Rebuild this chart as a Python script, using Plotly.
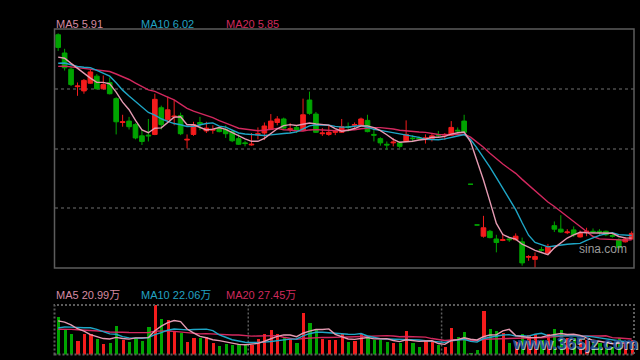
import pandas as pd
import plotly.graph_objects as go

# ---------------- data ----------------
opens = [8.79, 8.53, 8.30, 8.05, 7.99, 8.10, 8.20, 8.02, 8.11, 7.88,
         7.54, 7.56, 7.51, 7.35, 7.36, 7.37, 7.75, 7.58, 7.62, 7.64,
         7.29, 7.37, 7.54, 7.42, 7.43, 7.46, 7.44, 7.41, 7.31, 7.25,
         7.22, 7.37, 7.39, 7.44, 7.54, 7.59, 7.44, 7.47, 7.43, 7.86,
         7.66, 7.38, 7.37, 7.40, 7.40, 7.48, 7.50, 7.49, 7.57, 7.37,
         7.31, 7.23, 7.25, 7.25, 7.27, 7.32, 7.32, 7.31, 7.31, 7.37,
         7.36, 7.36, 7.43, 7.56, 6.66, 6.08, 5.92, 5.99, 5.88, 5.86,
         5.88, 5.87, 5.84, 5.62, 5.59, 5.73, 5.68, 6.07, 6.02, 5.97,
         6.01, 5.91, 5.98, 5.99, 5.99, 5.99, 5.93, 5.87, 5.84, 5.88]
highs = [8.81, 8.59, 8.33, 8.11, 8.16, 8.29, 8.23, 8.21, 8.18, 7.90,
         7.65, 7.62, 7.53, 7.44, 7.59, 7.95, 7.78, 7.91, 7.86, 7.68,
         7.37, 7.55, 7.62, 7.55, 7.50, 7.48, 7.50, 7.43, 7.37, 7.28,
         7.39, 7.47, 7.54, 7.66, 7.63, 7.61, 7.53, 7.49, 7.88, 7.98,
         7.69, 7.46, 7.49, 7.44, 7.59, 7.54, 7.54, 7.61, 7.65, 7.46,
         7.33, 7.27, 7.32, 7.27, 7.57, 7.36, 7.34, 7.37, 7.39, 7.42,
         7.39, 7.56, 7.47, 7.65, 6.66, 6.08, 6.21, 6.01, 5.94, 5.96,
         5.91, 5.96, 5.90, 5.65, 5.69, 5.77, 5.81, 6.13, 6.22, 6.02,
         6.06, 6.00, 6.04, 6.03, 6.02, 6.00, 5.96, 5.89, 5.91, 5.99]
lows = [8.56, 8.28, 8.06, 7.92, 7.95, 8.09, 8.01, 8.01, 7.94, 7.37,
        7.48, 7.44, 7.30, 7.22, 7.27, 7.36, 7.44, 7.56, 7.50, 7.36,
        7.17, 7.35, 7.43, 7.39, 7.38, 7.40, 7.32, 7.26, 7.22, 7.20,
        7.21, 7.30, 7.29, 7.43, 7.50, 7.44, 7.39, 7.39, 7.42, 7.65,
        7.39, 7.35, 7.35, 7.36, 7.39, 7.41, 7.46, 7.48, 7.40, 7.27,
        7.21, 7.15, 7.20, 7.17, 7.26, 7.26, 7.29, 7.24, 7.27, 7.33,
        7.29, 7.35, 7.38, 7.39, 6.66, 6.08, 5.90, 5.89, 5.69, 5.85,
        5.84, 5.86, 5.50, 5.57, 5.47, 5.70, 5.67, 5.98, 5.97, 5.95,
        5.91, 5.90, 5.92, 5.96, 5.94, 5.92, 5.90, 5.73, 5.83, 5.87]
closes = [8.61, 8.32, 8.08, 8.06, 8.14, 8.26, 8.02, 8.08, 7.95, 7.55,
          7.55, 7.48, 7.32, 7.27, 7.35, 7.87, 7.51, 7.72, 7.63, 7.38,
          7.30, 7.51, 7.52, 7.46, 7.44, 7.41, 7.38, 7.28, 7.23, 7.24,
          7.23, 7.38, 7.49, 7.56, 7.59, 7.46, 7.45, 7.43, 7.65, 7.67,
          7.40, 7.39, 7.40, 7.41, 7.48, 7.47, 7.51, 7.59, 7.41, 7.36,
          7.25, 7.22, 7.26, 7.20, 7.37, 7.31, 7.31, 7.32, 7.35, 7.36,
          7.37, 7.47, 7.42, 7.40, 6.66, 6.08, 6.04, 5.90, 5.83, 5.87,
          5.87, 5.92, 5.54, 5.63, 5.63, 5.72, 5.77, 6.02, 5.98, 5.98,
          5.94, 5.96, 5.99, 5.98, 5.98, 5.94, 5.92, 5.76, 5.88, 5.96]
# volume in 万
volumes = [66.3, 44.1, 35.8, 23.5, 35.8, 35.8, 27.0, 18.2, 19.9, 49.9,
           25.8, 21.7, 29.3, 23.5, 48.2, 87.0, 62.3, 60.5, 41.6, 38.1,
           22.2, 28.8, 28.8, 30.0, 20.5, 14.6, 18.7, 16.9, 18.7, 17.6,
           17.6, 27.0, 35.8, 42.9, 37.0, 30.0, 26.5, 20.5, 73.4, 55.7,
           44.1, 27.0, 25.2, 25.2, 37.0, 22.2, 23.5, 36.2, 30.5, 25.2,
           25.2, 22.2, 20.5, 20.5, 41.1, 20.5, 13.4, 23.5, 22.9, 16.4,
           13.4, 46.9, 31.0, 39.9, 2.8, 7.6, 76.9, 44.6, 41.1, 38.1,
           20.5, 22.2, 35.8, 33.5, 37.0, 24.7, 35.3, 44.6, 42.9, 28.2,
           28.2, 24.7, 24.7, 19.4, 19.4, 18.2, 12.9, 28.8, 19.9, 25.2]
# sessions before the visible window, estimated from where the MA lines start
closes_before = [8.25, 8.31, 8.28, 8.35, 8.30, 8.27, 8.33, 8.29, 8.26, 8.32,
                 8.28, 8.33, 8.30, 8.26, 8.31, 8.40, 8.45, 8.42, 8.48]
volumes_before = [40, 45, 38, 48, 42, 36, 44, 47, 40, 42,
                  30, 38, 33, 36, 36.5, 55, 60, 58, 57.2]

price_labels = ["MA5 5.91", "MA10 6.02", "MA20 5.85"]
volume_labels = ["MA5 20.99万", "MA10 22.06万", "MA20 27.45万"]
month_breaks = [29.5, 59.5]

# ---------------- styling ----------------
RED = "#f41c1c"
GREEN = "#00a400"
C_MA5 = "#e59ab2"
C_MA10 = "#1ea6c6"
C_MA20 = "#d2285e"
LBL_COLORS = ["#d58aa2", "#22a2c2", "#cf2a5c"]
FONT = "Liberation Sans, Arial, Noto Sans CJK SC, sans-serif"

W, H = 640, 360
def px_x(p): return p / W
def px_y(p): return 1 - p / H

n = len(closes)
x = list(range(n))
nb = len(closes_before)

def ma(series_before, series, w):
    s = pd.Series(list(series_before) + list(series), dtype=float)
    return s.rolling(w, min_periods=1).mean().iloc[nb:].tolist()

ma5, ma10, ma20 = (ma(closes_before, closes, w) for w in (5, 10, 20))
vma5, vma10, vma20 = (ma(volumes_before, volumes, w) for w in (5, 10, 20))

vol_colors = []
for i in range(n):
    if closes[i] > opens[i]:
        vol_colors.append(RED)
    elif closes[i] < opens[i]:
        vol_colors.append(GREEN)
    else:
        prev = closes[i - 1] if i > 0 else closes_before[-1]
        vol_colors.append(RED if closes[i] >= prev else GREEN)

fig = go.Figure()
fig.add_trace(go.Candlestick(
    x=x, open=opens, high=highs, low=lows, close=closes,
    increasing=dict(line=dict(color=RED, width=1), fillcolor=RED),
    decreasing=dict(line=dict(color=GREEN, width=1), fillcolor=GREEN),
    whiskerwidth=0, hoverinfo="skip", xaxis="x", yaxis="y"))
for yv, col in ((ma20, C_MA20), (ma10, C_MA10), (ma5, C_MA5)):
    fig.add_trace(go.Scatter(x=x, y=yv, mode="lines", line=dict(color=col, width=1.4),
                             hoverinfo="skip", xaxis="x", yaxis="y"))

fig.add_trace(go.Bar(x=x, y=volumes, marker=dict(color=vol_colors, line=dict(width=0)),
                     width=0.5, hoverinfo="skip", xaxis="x2", yaxis="y2"))
for yv, col in ((vma20, C_MA20), (vma10, C_MA10), (vma5, C_MA5)):
    fig.add_trace(go.Scatter(x=x, y=yv, mode="lines", line=dict(color=col, width=1.4),
                             hoverinfo="skip", xaxis="x2", yaxis="y2"))

xdom = [px_x(54.5), px_x(634)]
xrange_ = [-0.57, 89.36]
prange = [5.467, 8.872]
q = (prange[1] - prange[0]) / 4
grid_vals = [prange[0] + q, prange[0] + 2 * q, prange[0] + 3 * q]

fig.update_layout(
    width=W, height=H, margin=dict(l=0, r=0, t=0, b=0),
    paper_bgcolor="#000000", plot_bgcolor="#000000", showlegend=False,
    boxgap=0.28, boxgroupgap=0,
    xaxis=dict(domain=xdom, range=xrange_, showgrid=False, zeroline=False,
               showticklabels=False, ticks="", rangeslider=dict(visible=False)),
    yaxis=dict(domain=[px_y(268), px_y(29)], range=prange, tickvals=grid_vals,
               showgrid=True, gridcolor="#383838", gridwidth=2, griddash="3px,3px",
               zeroline=False, showticklabels=False, ticks=""),
    xaxis2=dict(domain=xdom, range=xrange_, anchor="y2", showgrid=False, zeroline=False,
                showticklabels=False, ticks=""),
    yaxis2=dict(domain=[px_y(354.5), px_y(305)], range=[0, 87.2], anchor="x2",
                showgrid=False, zeroline=False, showticklabels=False, ticks=""),
    bargap=0,
)

shapes = [
    dict(type="rect", xref="x domain", yref="y domain", x0=0, x1=1, y0=0, y1=1,
         line=dict(color="#5c5c5c", width=1.5), layer="above"),
    dict(type="rect", xref="x2 domain", yref="y2 domain", x0=0, x1=1, y0=0, y1=1,
         line=dict(color="#5c5c5c", width=2, dash="2px,2px"), layer="above"),
]
for mb in month_breaks:
    shapes.append(dict(type="line", xref="x2", yref="y2 domain", x0=mb, x1=mb, y0=0, y1=1,
                       line=dict(color="#5c5c5c", width=1.5, dash="2px,2px"), layer="below"))
fig.update_layout(shapes=shapes)

ann = []
for i, (t, c) in enumerate(zip(price_labels, LBL_COLORS)):
    ann.append(dict(text=t, x=px_x(54 + 85 * i), y=px_y(24), xref="paper", yref="paper",
                    xanchor="left", yanchor="middle", showarrow=False,
                    font=dict(family=FONT, size=11, color=c)))
for i, (t, c) in enumerate(zip(volume_labels, LBL_COLORS)):
    ann.append(dict(text=t, x=px_x(54 + 85 * i), y=px_y(295), xref="paper", yref="paper",
                    xanchor="left", yanchor="middle", showarrow=False,
                    font=dict(family=FONT, size=11, color=c)))
ann.append(dict(text="sina.com", x=px_x(603), y=px_y(249), xref="paper", yref="paper",
                xanchor="center", yanchor="middle", showarrow=False,
                font=dict(family=FONT, size=12, color="#9a9a9a")))
ann.append(dict(text="<b>www.365jz.com</b>", x=px_x(576), y=px_y(344), xref="paper", yref="paper",
                xanchor="center", yanchor="middle", showarrow=False,
                font=dict(family="Liberation Sans Narrow, Liberation Sans, Arial", size=17,
                          color="rgba(225,232,245,0.75)")))
ann.append(dict(text="<b>www.365jz.com</b>", x=px_x(575), y=px_y(343), xref="paper", yref="paper",
                xanchor="center", yanchor="middle", showarrow=False,
                font=dict(family="Liberation Sans Narrow, Liberation Sans, Arial", size=17,
                          color="rgba(30,70,140,0.9)")))
fig.update_layout(annotations=ann)

fig.write_html(
    "out.html",
    config={"displayModeBar": False},
    post_script="document.body.style.margin='0';document.body.style.padding='0';"
                "document.body.style.background='#000';document.body.style.overflow='hidden';",
)
